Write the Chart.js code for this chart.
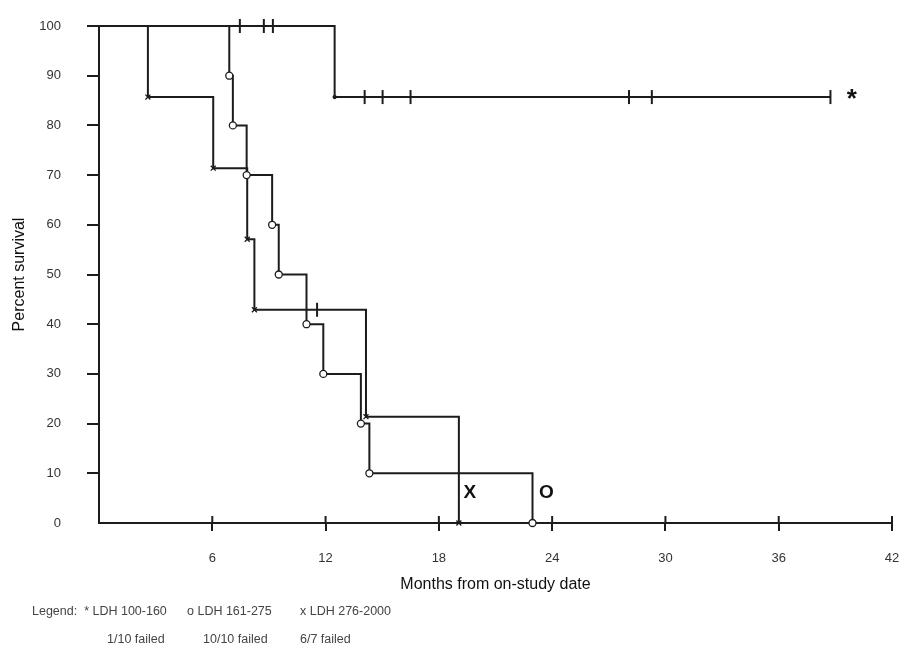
<!DOCTYPE html>
<html>
<head>
<meta charset="utf-8">
<script src="https://cdn.jsdelivr.net/npm/chart.js@4.4.1/dist/chart.umd.min.js"></script>
<style>
  html, body { margin: 0; padding: 0; background: #fff; }
  #wrap { width: 901px; height: 657px; }
</style>
</head>
<body>
<div id="wrap"><canvas id="myChart" width="901" height="657"></canvas></div>
<script>
Chart.defaults.font.family = '"Liberation Sans", Arial, sans-serif';

// LDH 100-160 (*): months, survival %, censored?
const lowMonths   = [0, 7.46, 8.73, 9.21, 12.48, 14.07, 15.02, 16.5, 28.07, 29.28, 38.74];
const lowSurvival = [100, 100, 100, 100, 85.7, 85.7, 85.7, 85.7, 85.7, 85.7, 85.7];
const lowCensored = [false, true, true, true, false, true, true, true, true, true, true];

// LDH 161-275 (o)
const midMonths   = [0, 6.9, 7.09, 7.82, 9.17, 9.52, 10.99, 11.88, 13.87, 14.32, 22.96];
const midSurvival = [100, 90, 80, 70, 60, 50, 40, 30, 20, 10, 0];
const midCensored = [false, false, false, false, false, false, false, false, false, false, false];

// LDH 276-2000 (x)
const highMonths   = [0, 2.59, 6.05, 7.85, 8.23, 11.55, 14.14, 19.06];
const highSurvival = [100, 85.7, 71.4, 57.1, 42.9, 42.9, 21.4, 0];
const highCensored = [false, false, false, false, false, true, false, false];

const xTicks = [0, 6, 12, 18, 24, 30, 36, 42];
const yTicks = [0, 10, 20, 30, 40, 50, 60, 70, 80, 90, 100];

const legendRow1 = ['Legend:  * LDH 100-160', 'o LDH 161-275', 'x LDH 276-2000'];
const legendRow2 = ['1/10 failed', '10/10 failed', '6/7 failed'];

const INK = '#1c1c1c';

function points(months, surv) {
  return months.map((m, i) => ({ x: m, y: surv[i] }));
}

function makeSet(label, months, surv, censored, marker, dotSize) {
  return {
    label,
    data: points(months, surv),
    stepped: 'before',
    clip: false,
    borderColor: INK,
    borderWidth: 2,
    fill: false,
    pointStyle: censored.map((c, i) => i === 0 ? false : (c ? 'line' : marker)),
    pointRotation: censored.map(c => c ? 90 : 0),
    pointRadius: censored.map((c, i) => i === 0 ? 0 : (c ? 7 : dotSize)),
    pointBorderWidth: censored.map(c => c ? 2 : 1.3),
    pointBorderColor: INK,
    pointBackgroundColor: marker === 'circle' ? '#fff' : INK
  };
}

// no automatic edge padding from tick labels, the chart area is fixed by the layout
function noEdgePad(s) {
  s.paddingTop = 0; s.paddingBottom = 0; s.paddingLeft = 0; s.paddingRight = 0;
}

// extra drawing: upper half of x ticks, curve labels, footnote legend
const extras = {
  id: 'extras',
  afterDraw(chart) {
    const { ctx, scales: { x, y } } = chart;
    ctx.save();
    ctx.strokeStyle = INK;
    ctx.lineWidth = 2;
    xTicks.forEach(v => {
      if (v === 0) return;
      const px = x.getPixelForValue(v);
      ctx.beginPath();
      ctx.moveTo(px, y.bottom - 7);
      ctx.lineTo(px, y.bottom);
      ctx.stroke();
    });

    ctx.fillStyle = '#111';
    ctx.textAlign = 'left';
    ctx.textBaseline = 'middle';
    ctx.font = 'bold 26px "Liberation Sans", Arial, sans-serif';
    ctx.fillText('*', x.getPixelForValue(39.6), y.getPixelForValue(85.2));
    ctx.font = 'bold 19px "Liberation Sans", Arial, sans-serif';
    ctx.fillText('X', x.getPixelForValue(19.3), y.getPixelForValue(6));
    ctx.fillText('O', x.getPixelForValue(23.3), y.getPixelForValue(6));

    ctx.fillStyle = '#444';
    ctx.font = '12.5px "Liberation Sans", Arial, sans-serif';
    const row1X = [32, 187, 300];
    const row2X = [107, 203, 300];
    legendRow1.forEach((t, i) => ctx.fillText(t, row1X[i], 612));
    legendRow2.forEach((t, i) => ctx.fillText(t, row2X[i], 640));
    ctx.restore();
  }
};

const data = {
  datasets: [
    makeSet('LDH 100-160', lowMonths, lowSurvival, lowCensored, 'circle', 1.5),
    makeSet('LDH 161-275', midMonths, midSurvival, midCensored, 'circle', 3.5),
    makeSet('LDH 276-2000', highMonths, highSurvival, highCensored, 'crossRot', 3.5)
  ]
};
// the * group marks its one failure with a small dot only
data.datasets[0].pointBackgroundColor = INK;

const config = {
  type: 'line',
  data,
  options: {
    responsive: false,
    animation: false,
    layout: { padding: { left: 0, right: 5, top: 26, bottom: 0 } },
    plugins: { legend: { display: false }, tooltip: { enabled: false } },
    scales: {
      x: {
        type: 'linear',
        min: 0,
        max: 42,
        afterFit: s => { s.height = 134; noEdgePad(s); },
        afterBuildTicks: s => { s.ticks = xTicks.map(v => ({ value: v })); },
        ticks: {
          padding: 20,
          color: '#333',
          font: { size: 13 },
          maxRotation: 0,
          callback: v => v === 0 ? '' : String(v)
        },
        grid: {
          drawOnChartArea: false,
          tickLength: 8,
          lineWidth: 2,
          tickColor: c => c.tick && c.tick.value === 0 ? 'rgba(0,0,0,0)' : INK
        },
        border: { color: INK, width: 2 },
        title: {
          display: true,
          text: 'Months from on-study date',
          color: '#111',
          font: { size: 16 },
          padding: { top: 0, bottom: 63 }
        }
      },
      y: {
        min: 0,
        max: 100,
        afterFit: s => { s.width = 99; noEdgePad(s); },
        afterBuildTicks: s => { s.ticks = yTicks.map(v => ({ value: v })); },
        ticks: { padding: 26, color: '#333', font: { size: 13 } },
        grid: {
          drawOnChartArea: false,
          tickLength: 12,
          lineWidth: 2,
          tickColor: c => c.tick && c.tick.value === 0 ? 'rgba(0,0,0,0)' : INK
        },
        border: { color: INK, width: 2 },
        title: {
          display: true,
          text: 'Percent survival',
          color: '#111',
          font: { size: 16 },
          padding: { top: 10, bottom: 0 }
        }
      }
    }
  },
  plugins: [extras]
};

const myChart = new Chart(document.getElementById('myChart'), config);
</script>
</body>
</html>
